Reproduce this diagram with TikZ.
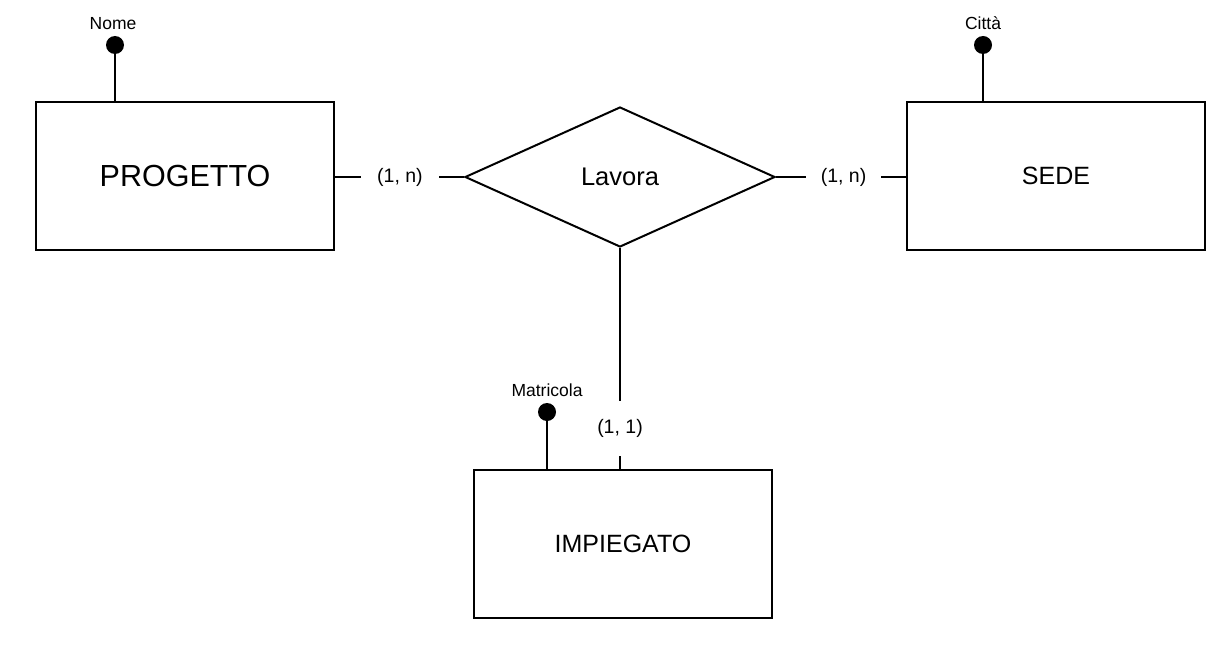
\documentclass[tikz,border=0pt]{standalone}
\usepackage{fontspec}
\setmainfont{Liberation Sans}
\usetikzlibrary{shapes.geometric}
\begin{document}
\begin{tikzpicture}[x=1pt,y=-1pt,
  line width=2pt,
  entity/.style={draw, rectangle, minimum width=298pt, minimum height=148pt, inner sep=0pt},
  relation/.style={draw, diamond, aspect=2.2, minimum width=310pt, minimum height=140pt, inner sep=0pt, font=\fontsize{25.5}{30}\selectfont},
  card/.style={inner sep=0pt, font=\fontsize{19.5}{23}\selectfont},
  attrdot/.style={circle, fill=black, draw=none, minimum size=18pt, inner sep=0pt},
  attrlabel/.style={inner sep=0pt, font=\fontsize{17.5}{21}\selectfont}
]
\useasboundingbox (0,0) rectangle (1230,650);

\node[entity, font=\fontsize{30.5}{36}\selectfont] (prog) at (185,176) {PROGETTO};
\node[entity, font=\fontsize{25}{30}\selectfont] (sede) at (1056,176) {SEDE};
\node[entity, font=\fontsize{25}{30}\selectfont] (imp) at (623,544) {IMPIEGATO};
\node[relation] (rel) at (620,177) {Lavora};

% cardinality labels
\node[card, minimum width=76pt] (c1) at (400,177) {(1, n)};
\node[card, minimum width=73pt] (c2) at (843.5,177) {(1, n)};
\node[card, minimum height=53pt] (c3) at (620,428.5) {(1, 1)};

\draw (prog.east |- c1) -- (c1.west);
\draw (c1.east) -- (rel.west);
\draw (rel.east) -- (c2.west);
\draw (c2.east) -- (sede.west |- c2);
\draw (rel.south) -- (c3.north);
\draw (c3.south) -- (imp.north -| c3);

% attributes
\node[attrdot] (dnome) at (115,45) {};
\node[attrlabel] (lnome) at (113,24) {Nome};
\draw (dnome.center) -- (prog.north -| dnome);

\node[attrdot] (dcitta) at (983,45) {};
\node[attrlabel] (lcitta) at (983,23) {Città};
\draw (dcitta.center) -- (sede.north -| dcitta);

\node[attrdot] (dmat) at (547,412) {};
\node[attrlabel] (lmat) at (547,390) {Matricola};
\draw (dmat.center) -- (imp.north -| dmat);
\end{tikzpicture}
\end{document}
